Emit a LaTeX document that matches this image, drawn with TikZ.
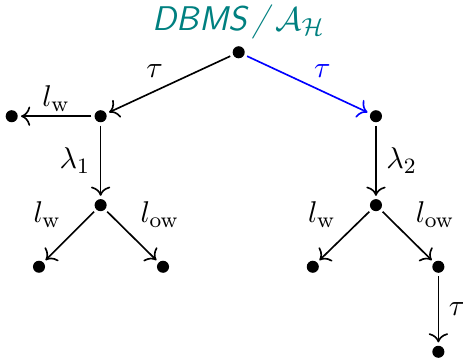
\documentclass[tikz,border=0pt]{standalone}
\usepackage{amsmath,amssymb}
\usepackage{xcolor}
\usetikzlibrary{arrows.meta,positioning}

\begin{document}
\begin{tikzpicture}[>={To[scale=1.15]},semithick,
  dot/.style={circle,fill,inner sep=0pt,minimum size=4.4pt,outer sep=1.2pt},
  lbl/.style={font=\fontsize{11}{13}\selectfont,inner sep=1.5pt}]
\useasboundingbox (0,0) rectangle (5.936,-4.603);
\node[dot] (r) at (3.06,-0.67) {};
\node[font=\fontsize{12.5}{15}\selectfont,teal,anchor=base] (title) at (3.06,-0.39)
  {\textsf{\textit{DBMS\,/\,}}$\mathcal{A}_{\mathcal{H}}$};

\node[dot] (a) at (1.29,-1.49) {};
\node[dot] (b) at (4.82,-1.49) {};
\node[dot] (aw) at (0.15,-1.49) {};
\node[dot] (a1) at (1.29,-2.63) {};
\node[dot] (a1l) at (0.50,-3.42) {};
\node[dot] (a1r) at (2.09,-3.42) {};
\node[dot] (b1) at (4.82,-2.63) {};
\node[dot] (b1l) at (4.01,-3.42) {};
\node[dot] (b1r) at (5.62,-3.42) {};
\node[dot] (b2) at (5.62,-4.51) {};

\draw[->] (r) -- node[lbl,above left=1pt] {$\tau$} (a);
\draw[->,blue] (r) -- node[lbl,above right=1pt] {$\tau$} (b);
\draw[->] (a) -- node[lbl,above] {$l_{\mathrm{w}}$} (aw);
\draw[->] (a) -- node[lbl,left=2pt] {$\lambda_1$} (a1);
\draw[->] (a1) -- node[lbl,above left=2pt] {$l_{\mathrm{w}}$} (a1l);
\draw[->] (a1) -- node[lbl,above right=2pt] {$l_{\mathrm{ow}}$} (a1r);
\draw[->] (b) -- node[lbl,right=2pt] {$\lambda_2$} (b1);
\draw[->] (b1) -- node[lbl,above left=2pt] {$l_{\mathrm{w}}$} (b1l);
\draw[->] (b1) -- node[lbl,above right=2pt] {$l_{\mathrm{ow}}$} (b1r);
\draw[->] (b1r) -- node[lbl,right=2pt] {$\tau$} (b2);
\end{tikzpicture}
\end{document}
